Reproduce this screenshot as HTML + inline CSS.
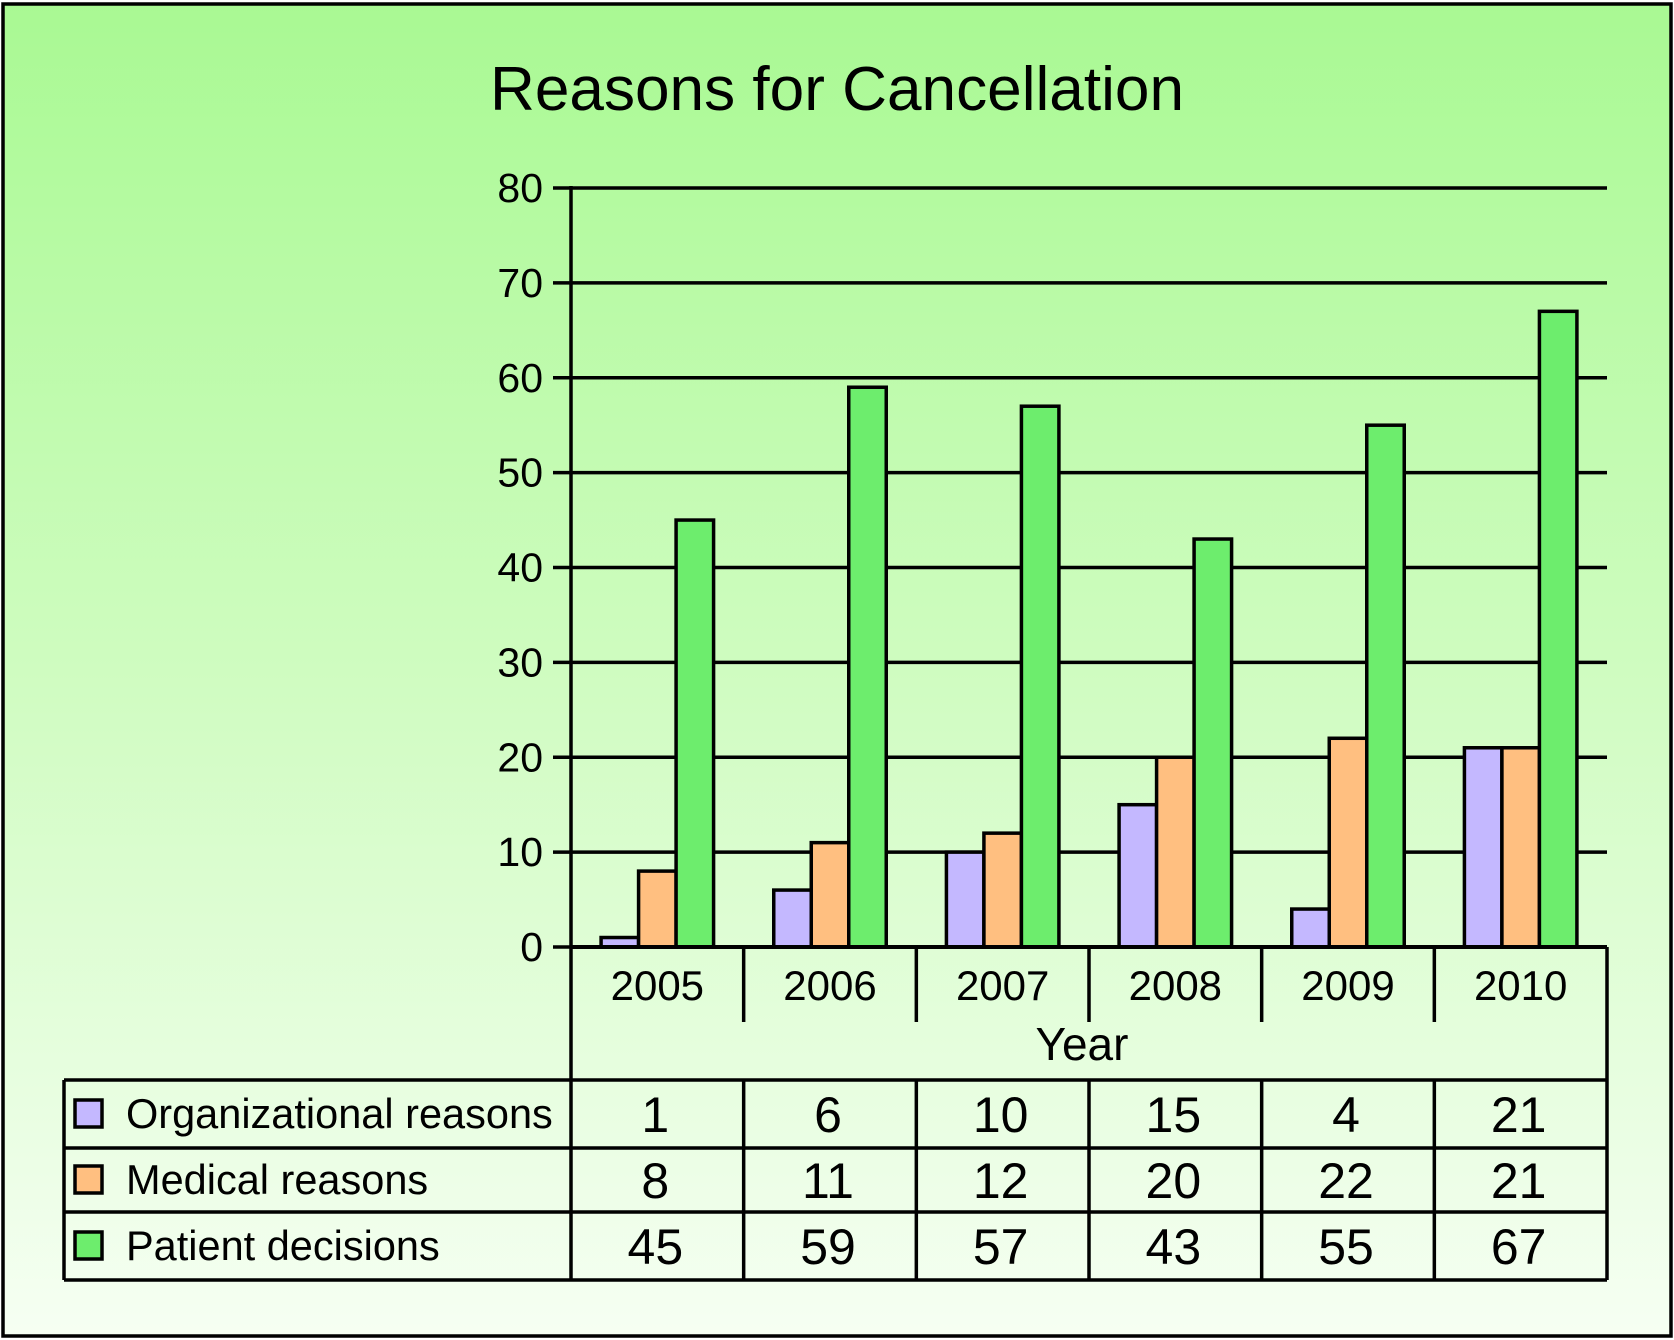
<!DOCTYPE html>
<html><head><meta charset="utf-8"><style>
html,body{margin:0;padding:0;}
body{width:1674px;height:1340px;overflow:hidden;}
svg{display:block;font-family:"Liberation Sans",Arial,sans-serif;}
</style></head><body>
<svg id="chart" width="1674" height="1340" viewBox="0 0 1674 1340" xmlns="http://www.w3.org/2000/svg">
<defs><linearGradient id="bg" x1="0" y1="0" x2="0" y2="1">
<stop offset="0" stop-color="#a9f993"/><stop offset="0.5" stop-color="#cffcc0"/><stop offset="1" stop-color="#f6fff3"/></linearGradient></defs>
<rect x="3" y="4" width="1668" height="1332" fill="url(#bg)" stroke="#000" stroke-width="3.5"/>
<text x="837" y="110" text-anchor="middle" font-size="62" textLength="694" lengthAdjust="spacingAndGlyphs">Reasons for Cancellation</text>
<g id="grid"></g><g id="bars"></g><g id="table"></g>
</svg>
<script>
const categories = ["2005","2006","2007","2008","2009","2010"];
const organizational = [1,6,10,15,4,21];
const medical = [8,11,12,20,22,21];
const patient = [45,59,57,43,55,67];
const yTicks = [0,10,20,30,40,50,60,70,80];
const seriesNames = ["Organizational reasons","Medical reasons","Patient decisions"];
const seriesColors = ["#c4b8ff","#ffbf80","#6ded6d"];

const NS="http://www.w3.org/2000/svg";
const x0=571, x1=1607, y0=947, yTop=188;
const catW=(x1-x0)/categories.length;
const yScale=v=>y0-(v/80)*(y0-yTop);
const xCat=i=>x0+i*catW;
function mk(tag,attrs,parent,text){const e=document.createElementNS(NS,tag);for(const k in attrs)e.setAttribute(k,attrs[k]);if(text!==undefined)e.textContent=text;parent.appendChild(e);return e;}
const grid=document.getElementById('grid'),bars=document.getElementById('bars'),table=document.getElementById('table');
const SW=3.5;

yTicks.forEach(t=>{
  const y=yScale(t);
  const l=mk('line',{x1:553,x2:x1,y1:y,y2:y,stroke:'#000','stroke-width':SW},grid);
  
  
  const tx=mk('text',{x:543,y:y+14,'text-anchor':'end','font-size':41},grid,String(t));
  
  
});
const ax=mk('line',{x1:x0,x2:x0,y1:yTop-2,y2:1280,stroke:'#000','stroke-width':SW},grid);



const series=[organizational,medical,patient];
const bw=37.5;
categories.forEach((c,i)=>{
  const gx=xCat(i)+(catW-3*bw)/2;
  series.forEach((s,j)=>{
    const y=yScale(s[i]);
    const r=mk('rect',{x:gx+j*bw,y:y,width:bw,height:y0-y,fill:seriesColors[j],stroke:'#000','stroke-width':SW},bars);
    
    
  });
});

const rowYs=[1080,1148,1212,1280];
const tl=64;
mk('line',{x1:x0,x2:x1,y1:y0,y2:y0,stroke:'#000','stroke-width':4},table);
mk('line',{x1:x1,x2:x1,y1:y0,y2:1280,stroke:'#000','stroke-width':SW},table);
for(let i=1;i<categories.length;i++){
  mk('line',{x1:xCat(i),x2:xCat(i),y1:y0,y2:1022,stroke:'#000','stroke-width':SW},table);
  mk('line',{x1:xCat(i),x2:xCat(i),y1:1080,y2:1280,stroke:'#000','stroke-width':SW},table);
}
rowYs.forEach(y=>mk('line',{x1:tl,x2:x1,y1:y,y2:y,stroke:'#000','stroke-width':SW},table));
mk('line',{x1:tl,x2:tl,y1:1080,y2:1280,stroke:'#000','stroke-width':SW},table);
categories.forEach((c,i)=>{
  const t=mk('text',{x:xCat(i)+catW/2,y:1000,'text-anchor':'middle','font-size':42},table,c);
  
  
});
const yl=mk('text',{x:1082,y:1060,'text-anchor':'middle','font-size':46},table,'Year');


series.forEach((s,j)=>{
  const cy=(rowYs[j]+rowYs[j+1])/2;
  const sw=mk('rect',{x:75,y:cy-14,width:27,height:27,fill:seriesColors[j],stroke:'#000','stroke-width':SW},table);
  
  
  const lt=mk('text',{x:126,y:cy+14,'font-size':41.5},table,seriesNames[j]);
  
  
  s.forEach((v,i)=>{
    const vt=mk('text',{x:xCat(i)+catW/2-2,y:cy+18,'text-anchor':'middle','font-size':50},table,String(v));
    
    
  });
});
</script>
</body></html>
